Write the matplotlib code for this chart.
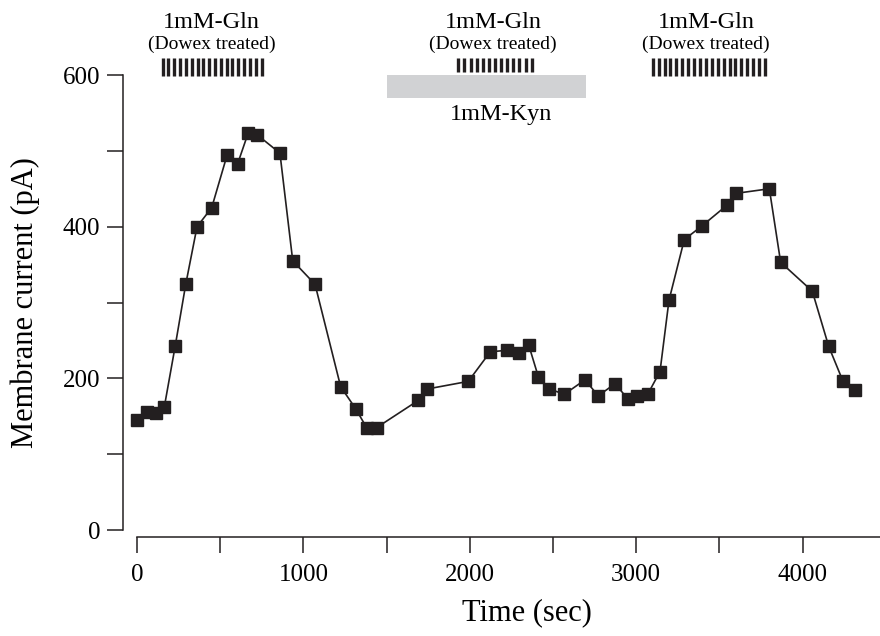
import numpy as np
import matplotlib
matplotlib.use("Agg")
import matplotlib.pyplot as plt
from matplotlib.patches import Rectangle
from matplotlib.ticker import MultipleLocator

plt.rcParams['font.family'] = ['Liberation Serif', 'DejaVu Serif']

# ---- data ----
time_sec = [0, 58, 112, 164, 230, 293, 361, 449, 541, 605, 669, 723, 859, 936,
            1070, 1224, 1314, 1380, 1440, 1691, 1745, 1991, 2123, 2224, 2294,
            2354, 2412, 2478, 2568, 2692, 2772, 2873, 2949, 3007, 3069, 3143,
            3197, 3289, 3395, 3544, 3602, 3800, 3868, 4058, 4157, 4241, 4315]
current_pA = [145, 155, 154, 162, 243, 324, 400, 425, 494, 483, 524, 521, 497,
              355, 324, 189, 160, 135, 135, 171, 186, 196, 235, 237, 234, 244,
              202, 186, 179, 198, 177, 193, 173, 177, 179, 209, 303, 383, 401,
              428, 444, 450, 353, 315, 242, 197, 185]

gln_starts = [154, 1931, 3099]
gln_ends = [749, 2372, 3774]
gln_counts = [18, 13, 20]
gln_label_x = [448, 2140, 3420]
gln_title = "1mM-Gln"
gln_sub = "(Dowex treated)"
kyn_start, kyn_end = 1500, 2700
kyn_label = "1mM-Kyn"
x_ticks = [0, 1000, 2000, 3000, 4000]
y_ticks = [0, 200, 400, 600]

# ---- figure ----
fig = plt.figure(figsize=(8.8, 6.36), dpi=100)
ax = fig.add_axes([123/880, (636-537)/636, 757/880, 462/636])
ax.set_xlim(-84, 4465)
ax.set_ylim(-9.2, 600)

ax.plot(time_sec, current_pA, color='#231f20', lw=1.2, marker='s',
        markersize=8.5, markerfacecolor='#231f20', markeredgecolor='#231f20',
        clip_on=False, zorder=3)

for side in ['top', 'right']:
    ax.spines[side].set_visible(False)
ax.spines['left'].set_bounds(0, 600)
ax.spines['bottom'].set_bounds(0, 4465)
for side in ['left', 'bottom']:
    ax.spines[side].set_linewidth(1.1)
    ax.spines[side].set_color('#231f20')

ax.set_xticks(x_ticks)
ax.set_yticks(y_ticks)
ax.xaxis.set_minor_locator(MultipleLocator(500))
ax.yaxis.set_minor_locator(MultipleLocator(100))
ax.tick_params(axis='both', which='both', direction='out', length=11.5,
               width=1.1, color='#231f20')
ax.tick_params(axis='y', which='major', labelsize=18, pad=5)
ax.tick_params(axis='x', which='major', labelsize=18, pad=8)
ax.tick_params(axis='both', which='minor', labelleft=False, labelbottom=False)
ax.set_yticks([v for v in range(100, 600, 200)], minor=True)

# Kyn bar
ax.add_patch(Rectangle((kyn_start, 570), kyn_end - kyn_start, 30,
                       facecolor='#d1d2d4', edgecolor='none', clip_on=False, zorder=1))
ax.text((kyn_start + kyn_end) / 2 + 90, 541, kyn_label, ha='center', va='baseline',
        fontsize=17.5, clip_on=False)

# Gln applications
for s, e, n, lx, i in zip(gln_starts, gln_ends, gln_counts, gln_label_x, range(3)):
    xs = np.linspace(s, e, n)
    bottom = 604 if i == 1 else 599
    ax.vlines(xs, bottom, 622, color='#231f20', lw=2.4, clip_on=False)
    ax.text(lx, 662, gln_title, ha='center', va='baseline', fontsize=17.5, clip_on=False)
    ax.text(lx, 634, gln_sub, ha='center', va='baseline', fontsize=14, clip_on=False)

fig.text(25/880, 1 - 303/636, 'Membrane current (pA)', rotation=90,
         ha='center', va='center', fontsize=22)
fig.text(527/880, 1 - 613/636, 'Time (sec)', ha='center', va='center', fontsize=22)

fig.savefig('out.png', dpi=100)
